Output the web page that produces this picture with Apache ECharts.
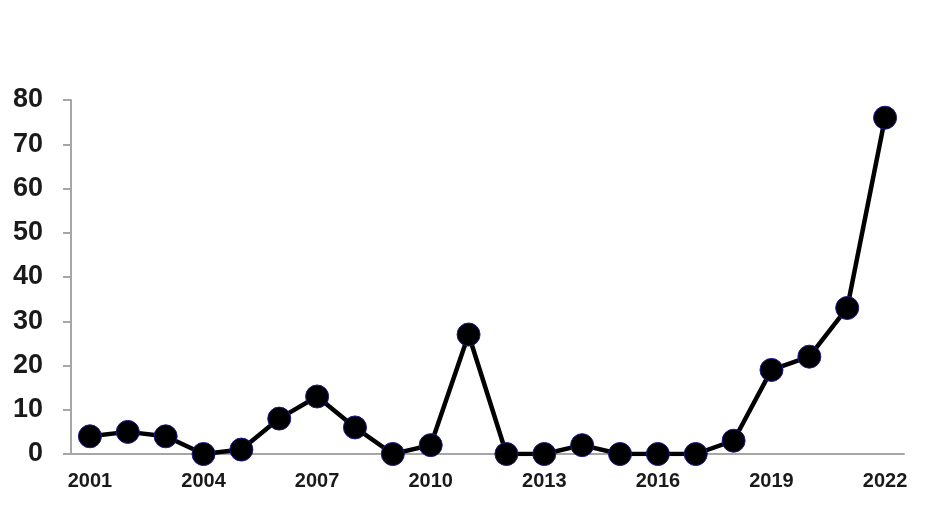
<!DOCTYPE html>
<html>
<head>
<meta charset="utf-8">
<script src="https://cdn.jsdelivr.net/npm/echarts@6/dist/echarts.min.js"></script>
<style>
    html, body { margin: 0; padding: 0; background: #fff; }
    #chart { width: 928px; height: 514px; }
</style>
</head>
<body>
<div id="chart"></div>
<script>
var years = ['2001', '2002', '2003', '2004', '2005', '2006', '2007', '2008', '2009', '2010', '2011',
    '2012', '2013', '2014', '2015', '2016', '2017', '2018', '2019', '2020', '2021', '2022'];
var counts = [4, 5, 4, 0, 1, 8, 13, 6, 0, 2, 27, 0, 0, 2, 0, 0, 0, 3, 19, 22, 33, 76];
var yTicks = [0, 10, 20, 30, 40, 50, 60, 70, 80];

var myChart = echarts.init(document.getElementById('chart'));
var option = {
    animation: false,
    grid: {
        left: 71,
        right: 24,
        top: 100,
        bottom: 60
    },
    xAxis: {
        type: 'category',
        data: years,
        boundaryGap: true,
        axisLine: {
            lineStyle: { color: '#a6a6a6', width: 2 }
        },
        axisTick: {
            interval: 0,
            length: 7,
            lineStyle: { color: '#a6a6a6', width: 2 }
        },
        axisLabel: {
            interval: 2,
            margin: 17,
            color: '#1a1a1a',
            fontFamily: 'Liberation Sans, Arial',
            fontWeight: 'bold',
            fontSize: 20
        }
    },
    yAxis: {
        type: 'value',
        min: yTicks[0],
        max: yTicks[yTicks.length - 1],
        interval: 10,
        splitLine: { show: false },
        axisLine: {
            show: true,
            lineStyle: { color: '#a6a6a6', width: 2 }
        },
        axisTick: {
            show: true,
            length: 8,
            lineStyle: { color: '#a6a6a6', width: 2 }
        },
        axisLabel: {
            margin: 28,
            color: '#1a1a1a',
            fontFamily: 'Liberation Sans, Arial',
            fontWeight: 'bold',
            fontSize: 27
        }
    },
    series: [
        {
            type: 'line',
            data: counts,
            symbol: 'circle',
            symbolSize: 23,
            lineStyle: { color: '#000', width: 4.5 },
            itemStyle: {
                color: '#000',
                borderColor: '#1a1a8c',
                borderWidth: 1
            },
            z: 3
        }
    ]
};
myChart.setOption(option);
</script>
</body>
</html>
